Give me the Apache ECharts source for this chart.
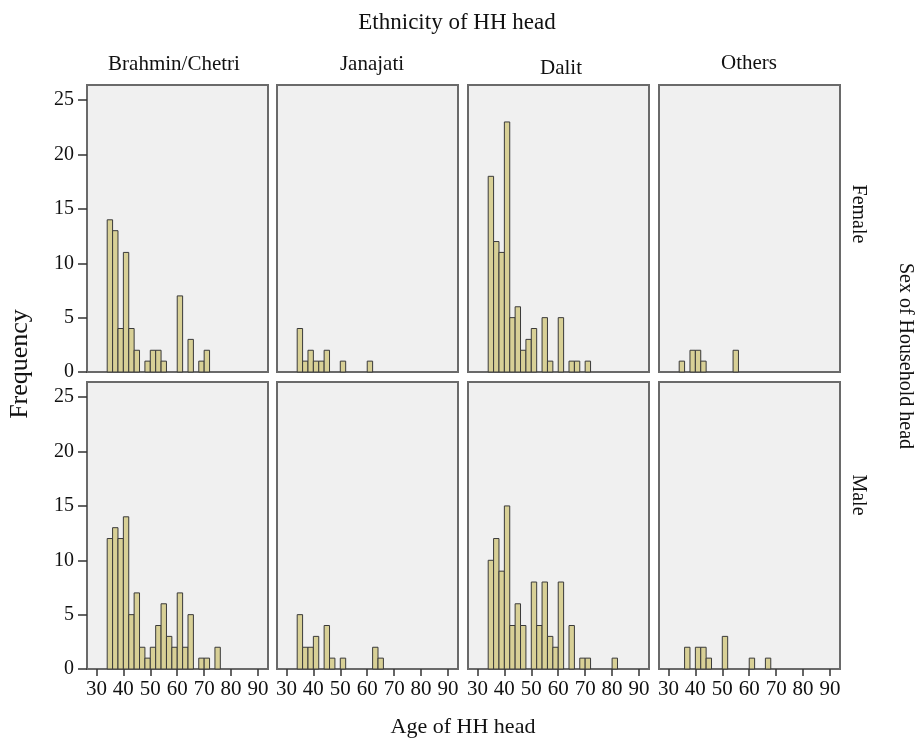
<!DOCTYPE html>
<html>
<head>
<meta charset="utf-8">
<script src="https://cdn.jsdelivr.net/npm/echarts@6/dist/echarts.min.js"></script>
<style>
  html, body { margin: 0; padding: 0; background: #fff; }
  #chart { width: 917px; height: 740px; }
</style>
</head>
<body>
<div id="chart"></div>
<script>
  // bins are 2 years wide, first bin starts at 34
  const binStart = 34;
  const binWidth = 2;
  const ethnicities = ['Brahmin/Chetri', 'Janajati', 'Dalit', 'Others'];
  const sexes = ['Female', 'Male'];
  const xTicks = [30, 40, 50, 60, 70, 80, 90];
  const yTicks = [0, 5, 10, 15, 20, 25];

  // counts per bin: 34-36, 36-38, 38-40, ...
  const femaleBrahmin = [14, 13, 4, 11, 4, 2, 0, 1, 2, 2, 1, 0, 0, 7, 0, 3, 0, 1, 2];
  const femaleJanajati = [4, 1, 2, 1, 1, 2, 0, 0, 1, 0, 0, 0, 0, 1];
  const femaleDalit = [18, 12, 11, 23, 5, 6, 2, 3, 4, 0, 5, 1, 0, 5, 0, 1, 1, 0, 1];
  const femaleOthers = [1, 0, 2, 2, 1, 0, 0, 0, 0, 0, 2];
  const maleBrahmin = [12, 13, 12, 14, 5, 7, 2, 1, 2, 4, 6, 3, 2, 7, 2, 5, 0, 1, 1, 0, 2];
  const maleJanajati = [5, 2, 2, 3, 0, 4, 1, 0, 1, 0, 0, 0, 0, 0, 2, 1];
  const maleDalit = [10, 12, 9, 15, 4, 6, 4, 0, 8, 4, 8, 3, 2, 8, 0, 4, 0, 1, 1, 0, 0, 0, 0, 1];
  const maleOthers = [0, 2, 0, 2, 2, 1, 0, 0, 3, 0, 0, 0, 0, 1, 0, 0, 1];

  const panelData = [
    [femaleBrahmin, femaleJanajati, femaleDalit, femaleOthers],
    [maleBrahmin, maleJanajati, maleDalit, maleOthers]
  ];

  const colLeft = [87, 277, 468, 659];
  const colWidth = 181;
  const rowTop = [85, 382];
  const rowHeight = [287, 287];

  const serif = '"Liberation Serif", "DejaVu Serif", serif';
  const grids = [], xAxes = [], yAxes = [], series = [];

  panelData.forEach((row, r) => {
    row.forEach((counts, c) => {
      const i = r * 4 + c;
      grids.push({
        left: colLeft[c], top: rowTop[r], width: colWidth, height: rowHeight[r],
        show: true, backgroundColor: '#f0f0f0', borderColor: '#6a6a6a', borderWidth: 2
      });
      xAxes.push({
        gridIndex: i, type: 'value', min: 26.5, max: 93.7,
        axisLine: { show: false }, splitLine: { show: false },
        axisTick: { show: r === 1, customValues: xTicks, length: 7, lineStyle: { color: '#333', width: 1.5 } },
        axisLabel: { show: r === 1, customValues: xTicks, color: '#111', fontFamily: serif, fontSize: 21, margin: 10 }
      });
      yAxes.push({
        gridIndex: i, type: 'value', min: 0, max: 26.4,
        axisLine: { show: false }, splitLine: { show: false },
        axisTick: { show: c === 0, customValues: yTicks, length: 9, lineStyle: { color: '#333', width: 1.5 } },
        axisLabel: { show: c === 0, customValues: yTicks, color: '#111', fontFamily: serif, fontSize: 20, margin: 13 }
      });
      const data = [];
      counts.forEach((v, k) => {
        if (v > 0) data.push([binStart + k * binWidth, v]);
      });
      series.push({
        type: 'custom',
        xAxisIndex: i, yAxisIndex: i,
        encode: { x: 0, y: 1 },
        data: data,
        renderItem: function (params, api) {
          const x0 = api.value(0);
          const p0 = api.coord([x0, api.value(1)]);
          const p1 = api.coord([x0 + binWidth, 0]);
          return {
            type: 'rect',
            shape: { x: p0[0], y: p0[1], width: p1[0] - p0[0], height: p1[1] - p0[1] },
            style: { fill: '#d8d096', stroke: '#3a3a3a', lineWidth: 1 }
          };
        }
      });
    });
  });

  function label(text, x, y, size, rotation) {
    return {
      type: 'text', x: x, y: y, rotation: rotation || 0,
      style: { text: text, fill: '#111', font: size + 'px ' + serif, align: 'center', verticalAlign: 'middle' }
    };
  }

  const colLabelX = [174, 372, 561, 749];
  const colLabelY = [64, 64, 68, 63];
  const graphics = [label('Ethnicity of HH head', 457, 23, 23)];
  ethnicities.forEach((e, c) => graphics.push(label(e, colLabelX[c], colLabelY[c], 21)));
  graphics.push(label(sexes[0], 858, 214, 20, -Math.PI / 2));
  graphics.push(label(sexes[1], 858, 495, 20, -Math.PI / 2));
  graphics.push(label('Sex of Household head', 905, 356, 20, -Math.PI / 2));
  graphics.push(label('Frequency', 20, 364, 26, Math.PI / 2));
  graphics.push(label('Age of HH head', 463, 727, 22));

  const chart = echarts.init(document.getElementById('chart'));
  chart.setOption({
    animation: false,
    backgroundColor: '#ffffff',
    grid: grids,
    xAxis: xAxes,
    yAxis: yAxes,
    series: series,
    graphic: graphics
  });
</script>
</body>
</html>
